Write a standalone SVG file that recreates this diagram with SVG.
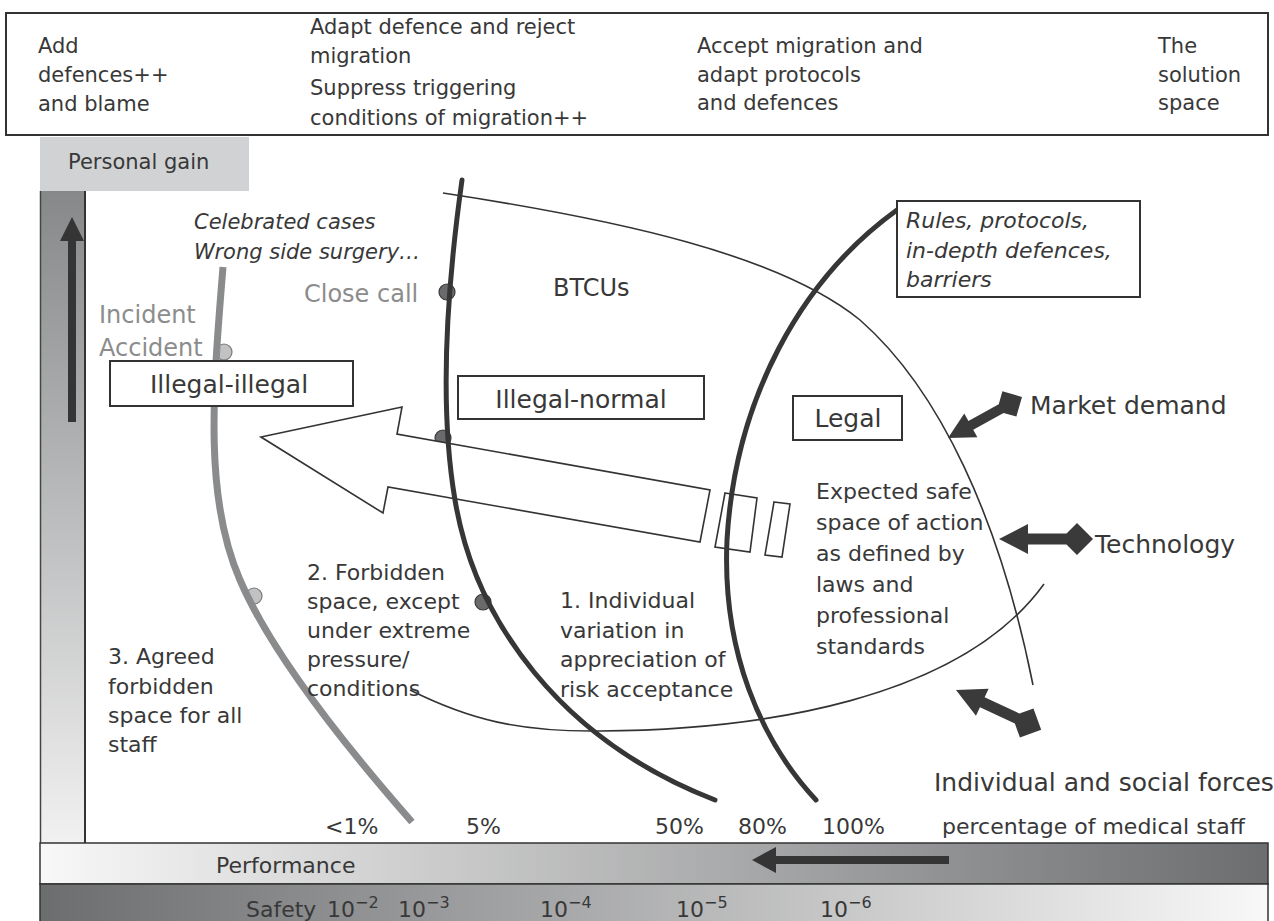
<svg xmlns="http://www.w3.org/2000/svg" xmlns:xlink="http://www.w3.org/1999/xlink" width="1274" height="921" viewBox="0 0 1274 921">
<style>
  text { font-family: "DejaVu Sans", "Liberation Sans", sans-serif; fill: #383838; }
  .t21 { font-size: 21px; }
  .t22 { font-size: 22px; }
  .t24 { font-size: 24px; }
  .t25 { font-size: 25px; }
  .it { font-style: italic; }
  .grey { fill: #8c8c8c; }
  .box { fill: #ffffff; stroke: #333333; stroke-width: 2; }
  .thin { fill: none; stroke: #333333; stroke-width: 1.6; }
  .thick { fill: none; stroke: #363636; stroke-width: 5; stroke-linecap: round; }
  .greyline { fill: none; stroke: #8a8b8d; stroke-width: 7; }
  .dotdark { fill: #6a6a6c; stroke: #3a3a3a; stroke-width: 1.2; }
  .dotlight { fill: #c2c2c4; stroke: #7a7a7a; stroke-width: 1.2; }
  .force { fill: #3a3a3a; }
</style>
<defs>
  <linearGradient id="colGrad" x1="0" y1="0" x2="0" y2="1">
    <stop offset="0" stop-color="#86888a"/>
    <stop offset="1" stop-color="#f1f1f1"/>
  </linearGradient>
  <linearGradient id="perfGrad" x1="0" y1="0" x2="1" y2="0">
    <stop offset="0" stop-color="#f8f8f8"/>
    <stop offset="1" stop-color="#6c6d6f"/>
  </linearGradient>
  <linearGradient id="safeGrad" x1="0" y1="0" x2="1" y2="0">
    <stop offset="0" stop-color="#6c6d6f"/>
    <stop offset="1" stop-color="#f8f8f8"/>
  </linearGradient>
  <path id="forceArrow" d="M0,0 L29,-15 L29,-5.5 L67.5,-5.5 L78,-16 L94,0 L78,16 L67.5,5.5 L29,5.5 L29,15 Z"/>
</defs>

<rect width="1274" height="921" fill="#ffffff"/>

<!-- top strategy box -->
<g id="strategy-box">
  <rect x="6" y="13" width="1262" height="122" fill="#ffffff" stroke="#333" stroke-width="2"/>
  <text class="t21" x="38" y="53">Add</text>
  <text class="t21" x="38" y="82">defences++</text>
  <text class="t21" x="38" y="111">and blame</text>
  <text class="t21" x="310" y="34">Adapt defence and reject</text>
  <text class="t21" x="310" y="63">migration</text>
  <text class="t21" x="310" y="95">Suppress triggering</text>
  <text class="t21" x="310" y="125">conditions of migration++</text>
  <text class="t21" x="697" y="53">Accept migration and</text>
  <text class="t21" x="697" y="82">adapt protocols</text>
  <text class="t21" x="697" y="110">and defences</text>
  <text class="t21" x="1158" y="53">The</text>
  <text class="t21" x="1158" y="82">solution</text>
  <text class="t21" x="1158" y="110">space</text>
</g>

<!-- personal gain axis -->
<g id="personal-gain">
  <rect x="40" y="137" width="209" height="54" fill="#d1d2d4"/>
  <text class="t21" x="68" y="169">Personal gain</text>
  <rect x="40" y="191" width="45" height="652" fill="url(#colGrad)"/>
  <line x1="40.5" y1="191" x2="40.5" y2="843" stroke="#444" stroke-width="1.5"/>
  <line x1="85" y1="191" x2="85" y2="843" stroke="#333" stroke-width="2"/>
  <rect x="68" y="236" width="8" height="186" fill="#353535"/>
  <polygon points="60,241 72,217 84,241" fill="#353535"/>
</g>

<!-- performance bar -->
<g id="performance-bar">
  <rect x="40" y="843" width="1228" height="41" fill="url(#perfGrad)" stroke="#333" stroke-width="1.5"/>
  <text class="t22" x="216" y="873">Performance</text>
  <rect x="772" y="856" width="177" height="8" fill="#353535"/>
  <polygon points="752,860 776,847 776,873" fill="#353535"/>
</g>

<!-- safety bar -->
<g id="safety-bar">
  <rect x="40" y="884" width="1228" height="40" fill="url(#safeGrad)" stroke="#333" stroke-width="1.5"/>
  <text class="t22" x="246" y="917">Safety</text>
  <text class="t22" x="327" y="917">10<tspan dy="-9" font-size="16">−2</tspan></text>
  <text class="t22" x="398" y="917">10<tspan dy="-9" font-size="16">−3</tspan></text>
  <text class="t22" x="540" y="917">10<tspan dy="-9" font-size="16">−4</tspan></text>
  <text class="t22" x="676" y="917">10<tspan dy="-9" font-size="16">−5</tspan></text>
  <text class="t22" x="820" y="917">10<tspan dy="-9" font-size="16">−6</tspan></text>
</g>

<!-- percentage axis -->
<g id="percentages">
  <text class="t22" x="325" y="834">&lt;1%</text>
  <text class="t22" x="466" y="834">5%</text>
  <text class="t22" x="655" y="834">50%</text>
  <text class="t22" x="738" y="834">80%</text>
  <text class="t22" x="822" y="834">100%</text>
  <text class="t22" x="942" y="834">percentage of medical staff</text>
</g>

<!-- migration arrow -->
<g id="migration-arrow">
  <circle class="dotdark" cx="443" cy="438" r="8"/>
  <polygon points="261,437 402,407 397,434 710,490 700,542 388,487 383,513" fill="#ffffff" stroke="#333" stroke-width="1.6"/>
  <polygon points="725,493 757,498 750,552 715,547" fill="#ffffff" stroke="#333" stroke-width="1.6"/>
  <polygon points="774,502 790,504 782,557 765,555" fill="#ffffff" stroke="#333" stroke-width="1.6"/>
</g>

<!-- boundaries and curves -->
<g id="curves">
  <path id="safe-space-boundary" class="thin" d="M443,193 C620,220 780,255 860,320 C940,390 1000,520 1033,685"/>
  <path id="individual-boundary" class="thin" d="M410,690 C470,720 520,732 600,731 C760,730 960,700 1044,584"/>
  <circle class="dotlight" cx="224" cy="352" r="8"/>
  <circle class="dotlight" cx="254" cy="596" r="8"/>
  <circle class="dotdark" cx="447" cy="292" r="8"/>
  <circle class="dotdark" cx="483" cy="602" r="8"/>
  <path id="line-agreed" class="greyline" d="M223,267 C212,400 205,500 240,580 C270,650 340,740 412,822"/>
  <path id="line-forbidden" class="thick" d="M462,180 C448,280 438,400 455,500 C475,620 560,740 715,800"/>
  <path id="line-rules" class="thick" d="M897,210 C800,280 735,400 727,540 C722,650 760,740 816,800"/>
</g>

<!-- force arrows -->
<g id="market-demand">
  <use xlink:href="#forceArrow" class="force" transform="translate(948,438) rotate(-29) scale(0.9)"/>
  <text class="t25" x="1030" y="414">Market demand</text>
</g>
<g id="technology">
  <use xlink:href="#forceArrow" class="force" transform="translate(999,539)"/>
  <text class="t25" x="1095" y="553">Technology</text>
</g>
<g id="individual-social">
  <use xlink:href="#forceArrow" class="force" transform="translate(956,690) rotate(25)"/>
  <text class="t25" x="934" y="791">Individual and social forces</text>
</g>

<!-- labelled boxes -->
<g id="illegal-illegal">
  <rect class="box" x="110" y="361" width="243" height="45"/>
  <text class="t25" x="229" y="393" text-anchor="middle">Illegal-illegal</text>
</g>
<g id="illegal-normal">
  <rect class="box" x="458" y="376" width="246" height="43"/>
  <text class="t25" x="581" y="408" text-anchor="middle">Illegal-normal</text>
</g>
<g id="legal">
  <rect class="box" x="793" y="396" width="109" height="44"/>
  <text class="t25" x="848" y="427" text-anchor="middle">Legal</text>
</g>
<g id="rules-box">
  <rect class="box" x="897" y="201" width="243" height="96"/>
  <text class="t22 it" x="906" y="228">Rules, protocols,</text>
  <text class="t22 it" x="906" y="258">in-depth defences,</text>
  <text class="t22 it" x="906" y="287">barriers</text>
</g>

<!-- free labels -->
<g id="labels">
  <text class="t21 it" x="194" y="229">Celebrated cases</text>
  <text class="t21 it" x="194" y="259">Wrong side surgery…</text>
  <text class="t24 grey" x="304" y="302">Close call</text>
  <text class="t24" x="553" y="296">BTCUs</text>
  <text class="t24 grey" x="99" y="323">Incident</text>
  <text class="t24 grey" x="99" y="356">Accident</text>
  <text class="t22" x="816" y="499">Expected safe</text>
  <text class="t22" x="816" y="530">space of action</text>
  <text class="t22" x="816" y="561">as defined by</text>
  <text class="t22" x="816" y="592">laws and</text>
  <text class="t22" x="816" y="623">professional</text>
  <text class="t22" x="816" y="654">standards</text>
  <text class="t22" x="560" y="608">1. Individual</text>
  <text class="t22" x="560" y="638">variation in</text>
  <text class="t22" x="560" y="667">appreciation of</text>
  <text class="t22" x="560" y="697">risk acceptance</text>
  <text class="t22" x="307" y="580">2. Forbidden</text>
  <text class="t22" x="307" y="609">space, except</text>
  <text class="t22" x="307" y="638">under extreme</text>
  <text class="t22" x="307" y="667">pressure/</text>
  <text class="t22" x="307" y="696">conditions</text>
  <text class="t22" x="108" y="664">3. Agreed</text>
  <text class="t22" x="108" y="694">forbidden</text>
  <text class="t22" x="108" y="723">space for all</text>
  <text class="t22" x="108" y="752">staff</text>
</g>
</svg>
